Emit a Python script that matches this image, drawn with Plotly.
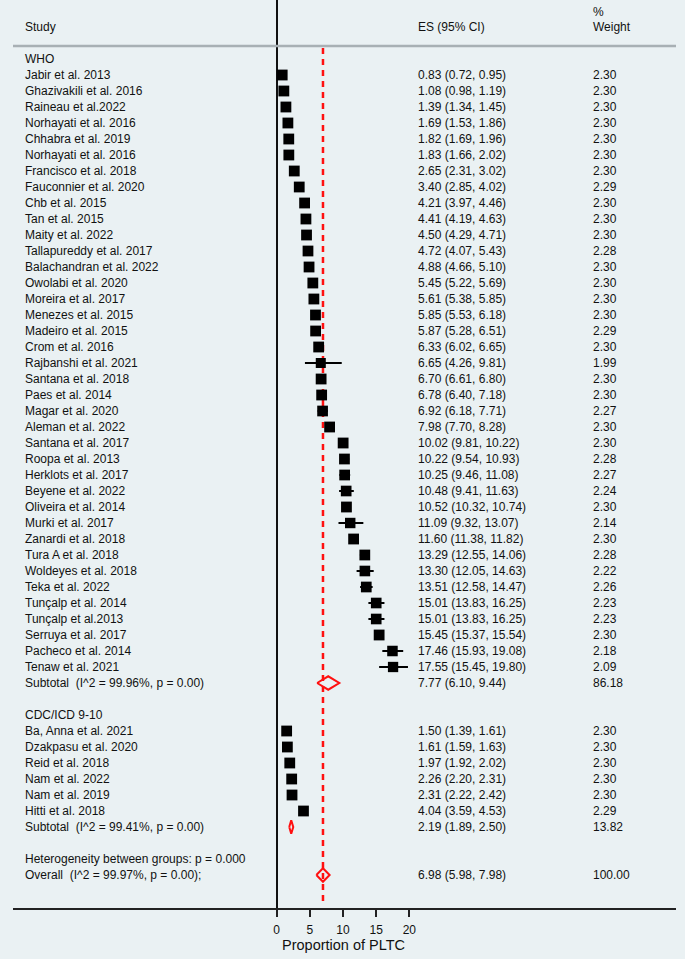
import plotly.graph_objects as go

# ---------------- data ----------------
who_studies = ["Jabir et al. 2013", "Ghazivakili et al. 2016", "Raineau et al.2022", "Norhayati et al. 2016",
               "Chhabra et al. 2019", "Norhayati et al. 2016", "Francisco et al. 2018", "Fauconnier et al. 2020",
               "Chb et al. 2015", "Tan et al. 2015", "Maity et al. 2022", "Tallapureddy et al. 2017",
               "Balachandran et al. 2022", "Owolabi et al. 2020", "Moreira et al. 2017", "Menezes et al. 2015",
               "Madeiro et al. 2015", "Crom et al. 2016", "Rajbanshi et al. 2021", "Santana et al. 2018",
               "Paes et al. 2014", "Magar et al. 2020", "Aleman et al. 2022", "Santana et al. 2017",
               "Roopa et al. 2013", "Herklots et al. 2017", "Beyene et al. 2022", "Oliveira et al. 2014",
               "Murki et al. 2017", "Zanardi et al. 2018", "Tura A et al. 2018", "Woldeyes et al. 2018",
               "Teka et al. 2022", "Tunçalp et al. 2014", "Tunçalp et al.2013", "Serruya et al. 2017",
               "Pacheco et al. 2014", "Tenaw et al. 2021"]
who_es = [0.83, 1.08, 1.39, 1.69, 1.82, 1.83, 2.65, 3.40, 4.21, 4.41, 4.50, 4.72, 4.88, 5.45, 5.61, 5.85,
          5.87, 6.33, 6.65, 6.70, 6.78, 6.92, 7.98, 10.02, 10.22, 10.25, 10.48, 10.52, 11.09, 11.60, 13.29,
          13.30, 13.51, 15.01, 15.01, 15.45, 17.46, 17.55]
who_lo = [0.72, 0.98, 1.34, 1.53, 1.69, 1.66, 2.31, 2.85, 3.97, 4.19, 4.29, 4.07, 4.66, 5.22, 5.38, 5.53,
          5.28, 6.02, 4.26, 6.61, 6.40, 6.18, 7.70, 9.81, 9.54, 9.46, 9.41, 10.32, 9.32, 11.38, 12.55,
          12.05, 12.58, 13.83, 13.83, 15.37, 15.93, 15.45]
who_hi = [0.95, 1.19, 1.45, 1.86, 1.96, 2.02, 3.02, 4.02, 4.46, 4.63, 4.71, 5.43, 5.10, 5.69, 5.85, 6.18,
          6.51, 6.65, 9.81, 6.80, 7.18, 7.71, 8.28, 10.22, 10.93, 11.08, 11.63, 10.74, 13.07, 11.82, 14.06,
          14.63, 14.47, 16.25, 16.25, 15.54, 19.08, 19.80]
who_w = [2.30, 2.30, 2.30, 2.30, 2.30, 2.30, 2.30, 2.29, 2.30, 2.30, 2.30, 2.28, 2.30, 2.30, 2.30, 2.30,
         2.29, 2.30, 1.99, 2.30, 2.30, 2.27, 2.30, 2.30, 2.28, 2.27, 2.24, 2.30, 2.14, 2.30, 2.28, 2.22,
         2.26, 2.23, 2.23, 2.30, 2.18, 2.09]
who_sub = {"label": "Subtotal  (I^2 = 99.96%, p = 0.00)", "es": 7.77, "lo": 6.10, "hi": 9.44, "w": 86.18}

cdc_studies = ["Ba, Anna et al. 2021", "Dzakpasu et al. 2020", "Reid et al. 2018", "Nam et al. 2022",
               "Nam et al. 2019", "Hitti et al. 2018"]
cdc_es = [1.50, 1.61, 1.97, 2.26, 2.31, 4.04]
cdc_lo = [1.39, 1.59, 1.92, 2.20, 2.22, 3.59]
cdc_hi = [1.61, 1.63, 2.02, 2.31, 2.42, 4.53]
cdc_w = [2.30, 2.30, 2.30, 2.30, 2.30, 2.29]
cdc_sub = {"label": "Subtotal  (I^2 = 99.41%, p = 0.00)", "es": 2.19, "lo": 1.89, "hi": 2.50, "w": 13.82}

overall = {"label": "Overall  (I^2 = 99.97%, p = 0.00);", "es": 6.98, "lo": 5.98, "hi": 7.98, "w": 100.00}
het_text = "Heterogeneity between groups: p = 0.000"
group_names = ["WHO", "CDC/ICD 9-10"]
tick_vals = [0, 5, 10, 15, 20]
x_title = "Proportion of PLTC"

# ---------------- layout constants ----------------
BG = "#eaf1f3"
FONT = "Liberation Sans, Arial, sans-serif"
W, H = 685, 959
ML, MR, MT, MB = 13, 9, 0, 51
PW = W - ML - MR
PH = H - MT - MB
X0PX = 276.7 - ML          # px of x=0 inside plot area
PXU = 6.63                  # px per unit
ROW0PX = 59.0               # px of row 0
ROWPX = 16.0                # row spacing
xr = [-X0PX / PXU, (PW - X0PX) / PXU]
yr = [(PH - ROW0PX) / ROWPX, -ROW0PX / ROWPX]

def px_to_paper(px):
    return (px - ML) / PW

# ---------------- rows ----------------
rows = []  # (row, kind, label, es, lo, hi, w)
r = 0
rows.append((r, "group", group_names[0], None, None, None, None)); r += 1
for s, e, l, h, w in zip(who_studies, who_es, who_lo, who_hi, who_w):
    rows.append((r, "study", s, e, l, h, w)); r += 1
rows.append((r, "sub", who_sub["label"], who_sub["es"], who_sub["lo"], who_sub["hi"], who_sub["w"])); r += 2
rows.append((r, "group", group_names[1], None, None, None, None)); r += 1
for s, e, l, h, w in zip(cdc_studies, cdc_es, cdc_lo, cdc_hi, cdc_w):
    rows.append((r, "study", s, e, l, h, w)); r += 1
rows.append((r, "sub", cdc_sub["label"], cdc_sub["es"], cdc_sub["lo"], cdc_sub["hi"], cdc_sub["w"])); r += 2
rows.append((r, "text", het_text, None, None, None, None)); r += 1
rows.append((r, "sub", overall["label"], overall["es"], overall["lo"], overall["hi"], overall["w"]))

fig = go.Figure()

# dashed overall line
fig.add_trace(go.Scatter(x=[overall["es"], overall["es"]], y=[-0.69, yr[0] - 0.15], mode="lines",
                         line=dict(color="#ff1010", width=2.5, dash="6px,5px"), hoverinfo="skip",
                         showlegend=False))

# studies: CI + squares
st = [x for x in rows if x[1] == "study"]
fig.add_trace(go.Scatter(
    x=[x[3] for x in st], y=[x[0] for x in st], mode="markers",
    marker=dict(symbol="square", color="black", opacity=1,
                size=[10.8 * (x[6] / 2.30) ** 0.5 for x in st], line=dict(width=0)),
    error_x=dict(type="data", symmetric=False,
                 array=[x[5] - x[3] for x in st], arrayminus=[x[3] - x[4] for x in st],
                 color="black", thickness=2, width=0),
    hoverinfo="skip", showlegend=False))

# diamonds
HH = 0.42
for x in rows:
    if x[1] == "sub":
        rr, e, l, h = x[0], x[3], x[4], x[5]
        fig.add_trace(go.Scatter(x=[l, e, h, e, l], y=[rr, rr - HH, rr, rr + HH, rr], mode="lines",
                                 line=dict(color="#ff1010", width=2), hoverinfo="skip", showlegend=False))

# text columns
ann = []
def add_text(px, row, text, size=12):
    ann.append(dict(x=px_to_paper(px), y=row, xref="paper", yref="y", text=text, showarrow=False,
                    xanchor="left", yanchor="middle", font=dict(family=FONT, size=size, color="#111111")))

for x in rows:
    rr, kind, label = x[0], x[1], x[2]
    add_text(23, rr, label)
    if x[3] is not None:
        add_text(416, rr, f"{x[3]:.2f} ({x[4]:.2f}, {x[5]:.2f})")
        add_text(591, rr, f"{x[6]:.2f}")

hdr_row = (27 - ROW0PX) / ROWPX
add_text(23, hdr_row, "Study")
add_text(416, hdr_row, "ES (95% CI)")
add_text(591, hdr_row, "Weight")
add_text(591, (12 - ROW0PX) / ROWPX, "%")

# axis title
ann.append(dict(x=10, y=-(945 - (MT + PH)) / PH, xref="x", yref="paper", text=x_title, showarrow=False,
                xanchor="center", yanchor="middle", font=dict(family=FONT, size=14.5, color="#111111")))

# header separator in paper coords (46 px from top)
sep_paper = 1 - (46 - MT) / PH
fig.update_layout(
    width=W, height=H, margin=dict(l=ML, r=MR, t=MT, b=MB),
    paper_bgcolor=BG, plot_bgcolor=BG, annotations=ann,
    shapes=[dict(type="line", xref="paper", yref="paper", x0=0, x1=1, y0=sep_paper, y1=sep_paper,
                 line=dict(color="#a8b0b4", width=2.5), layer="above")],
    xaxis=dict(range=xr, tickvals=tick_vals, ticktext=[str(v) for v in tick_vals], showgrid=False,
               zeroline=True, zerolinecolor="#111111", zerolinewidth=2, layer="below traces",
               showline=True, linecolor="#222222", linewidth=2, ticks="outside", ticklen=7,
               tickwidth=1.5, tickcolor="#222222", ticklabelstandoff=3,
               tickfont=dict(family=FONT, size=12, color="#111111"), fixedrange=True),
    yaxis=dict(range=yr, visible=False, showgrid=False, zeroline=False, fixedrange=True),
)

fig.write_html("out.html", config={"displayModeBar": False},
               post_script="document.body.style.margin='0';document.body.style.background='" + BG + "';")
